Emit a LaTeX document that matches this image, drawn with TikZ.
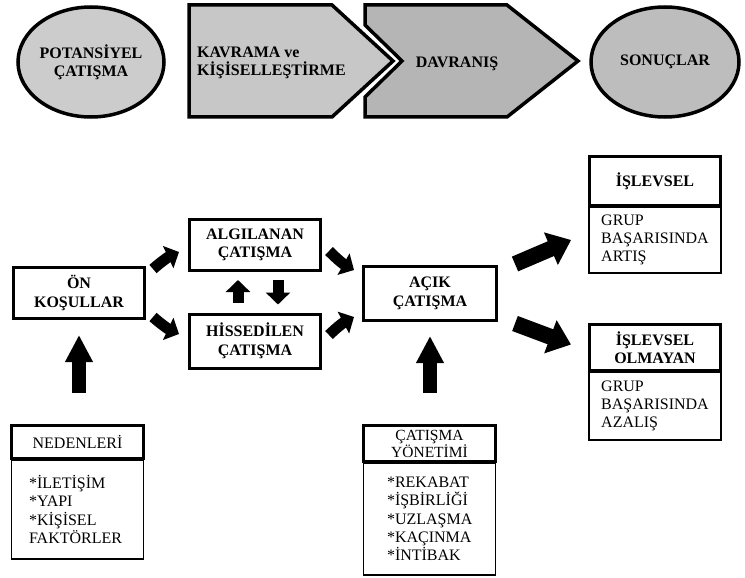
\documentclass[tikz,border=0pt]{standalone}
\usepackage{fontspec}
\setmainfont{Liberation Serif}
\usetikzlibrary{arrows.meta,shapes.geometric,calc}

\definecolor{potfill}{gray}{0.80}
\definecolor{kavfill}{gray}{0.78}
\definecolor{davfill}{gray}{0.71}
\definecolor{sonfill}{gray}{0.74}

\begin{document}
\begin{tikzpicture}[x=1pt,y=-1pt,
  stageline/.style={draw=black,line width=3.5pt,line join=miter},
  stagelbl/.style={font=\fontsize{16}{18}\selectfont\bfseries,inner sep=0pt},
  stageoval/.style={ellipse,stageline,minimum width=146pt,minimum height=110pt,
    align=center,stagelbl},
  headbox/.style={draw,line width=3pt,minimum width=131pt,inner sep=2pt,
    align=center,font=\fontsize{16}{18.5}\selectfont\bfseries},
  plainhead/.style={draw,line width=3pt,minimum width=132pt,inner sep=1pt,
    align=center,font=\fontsize{16}{16}\selectfont},
  listbox/.style={draw,line width=1.8pt,minimum width=132pt,inner sep=2pt,
    align=left,font=\fontsize{16}{18.3}\selectfont},
  fatS/.style={line width=11pt,-{Triangle[length=12pt,width=24pt]}},
  fatV/.style={line width=14pt,-{Triangle[length=27pt,width=26pt]}},
  fatL/.style={line width=16pt,-{Triangle[length=22pt,width=34pt]}}
]
\useasboundingbox (0,0) rectangle (745,578);

% ---- stages along the top
\node[stageoval,fill=potfill] (pot) at (91,62) {POTANSİYEL\\ÇATIŞMA};
\draw[stageline,fill=kavfill] (189,5) -- (332,5) -- (393,61) -- (332,117)
  -- (189,117) -- cycle;
\node[stagelbl,align=left,anchor=west] (kav) at (197,63)
  {KAVRAMA ve\\KİŞİSELLEŞTİRME};
\draw[stageline,fill=davfill] (365,5) -- (507,5) -- (578,61) -- (507,117)
  -- (365,117) -- (365,97) -- (402,61) -- (365,25) -- cycle;
\node[stagelbl] (dav) at (457,64) {DAVRANIŞ};
\node[stageoval,fill=sonfill,minimum width=148pt] (son) at (665,62) {SONUÇLAR};

% ---- process boxes
\node[headbox,minimum height=51pt] (on) at (79,293) {ÖN\\KOŞULLAR};
\node[headbox,minimum height=51pt] (alg) at (255,245) {ALGILANAN\\ÇATIŞMA};
\node[headbox,minimum height=54pt] (hiss) at (255,341) {HİSSEDİLEN\\ÇATIŞMA};
\node[headbox,minimum height=54pt,minimum width=133pt] (acik) at (430,293.5) {AÇIK\\ÇATIŞMA};

% ---- outcomes
\node[listbox,minimum height=66pt] (islb) at (655,240)
  {GRUP\\BAŞARISINDA\\ARTIŞ};
\node[headbox,minimum height=49pt] (isl) at (655,181) {İŞLEVSEL};
\node[listbox,minimum height=68pt] (islob) at (655,406)
  {GRUP\\BAŞARISINDA\\AZALIŞ};
\node[headbox,minimum height=46pt] (islo) at (655,347.5) {İŞLEVSEL\\OLMAYAN};

% ---- causes and conflict management
\node[listbox,minimum height=99pt,text width=97pt] (nedb) at (77.5,509.5)
  {*İLETİŞİM\\{}*YAPI\\{}*KİŞİSEL\\FAKTÖRLER};
\node[plainhead,minimum height=33pt] (ned) at (77.5,442) {NEDENLERİ};
\node[listbox,minimum height=112pt,text width=85pt] (yonb) at (429.5,519)
  {*REKABAT\\{}*İŞBİRLİĞİ\\{}*UZLAŞMA\\{}*KAÇINMA\\{}*İNTİBAK};
\node[plainhead,minimum height=36pt,font=\fontsize{15.5}{15}\selectfont] (yon)
  at (429.5,443.5) {ÇATIŞMA\\YÖNETİMİ};

% ---- block arrows
\draw[fatS] ($(on.north east)+(7,3)$) to[bend left=8] ($(alg.west)+(-9,7)$);
\draw[fatS] ($(on.south east)+(7,-3)$) to[bend right=8] ($(hiss.west)+(-9,-7)$);
\draw[fatS] ($(alg.east)+(7,6)$) to[bend right=8] ($(acik.north west)+(-8,5)$);
\draw[fatS] ($(hiss.east)+(7,-6)$) to[bend left=8] ($(acik.south west)+(-8,-5)$);
\draw[fatS] ($(hiss.north)+(-17,-10)$) -- ($(alg.south)+(-17,8)$);
\draw[fatS] ($(alg.south)+(23,8)$) -- ($(hiss.north)+(23,-8)$);
\draw[fatV] ($(ned.north)+(1.5,-31)$) -- ($(on.south)+(0,15)$);
\draw[fatV] ($(yon.north)+(0.5,-31)$) -- ($(acik.south)+(0,14)$);
\draw[fatL] ($(acik.north east)+(17,-1)$) -- ($(islb.west)+(-17,0)$);
\draw[fatL] ($(acik.south east)+(17,1.5)$) -- ($(islo.west)+(-17,-3)$);
\end{tikzpicture}
\end{document}
